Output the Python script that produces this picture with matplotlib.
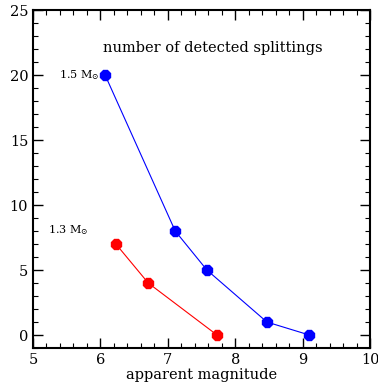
import matplotlib
matplotlib.use("Agg")
import matplotlib.pyplot as plt
from matplotlib.ticker import MultipleLocator

blue_mag = [6.07, 7.11, 7.58, 8.47, 9.10]
blue_n = [20, 8, 5, 1, 0]
red_mag = [6.23, 6.71, 7.73]
red_n = [7, 4, 0]

plt.rcParams['font.family'] = ['DejaVu Serif']
plt.rcParams['mathtext.fontset'] = 'dejavuserif'
fig = plt.figure(figsize=(3.78, 3.88), dpi=100)
ax = fig.add_axes([0.0873, 0.103, 0.979 - 0.0873, 0.974 - 0.103])

ax.plot(blue_mag, blue_n, color='blue', lw=0.8, marker='8', ms=8, mec='blue', mfc='blue')
ax.plot(red_mag, red_n, color='red', lw=0.8, marker='8', ms=8, mec='red', mfc='red')

ax.set_xlim(5, 10)
ax.set_ylim(-1, 25)
ax.xaxis.set_major_locator(MultipleLocator(1))
ax.xaxis.set_minor_locator(MultipleLocator(0.2))
ax.yaxis.set_major_locator(MultipleLocator(5))
ax.yaxis.set_minor_locator(MultipleLocator(1))
ax.tick_params(which='both', direction='in', top=True, right=True, labelsize=10.5)
ax.tick_params(which='major', length=7, width=1)
ax.tick_params(which='minor', length=3.5, width=0.8)
for s in ax.spines.values():
    s.set_linewidth(1.5)

ax.set_xlabel('apparent magnitude', fontsize=10.5, labelpad=1)
ax.text(7.66, 22.1, 'number of detected splittings', ha='center', va='center', fontsize=10.5)
ax.text(5.98, 20, r'1.5 M$_{\odot}$', ha='right', va='center', fontsize=8)
ax.text(5.82, 8.1, r'1.3 M$_{\odot}$', ha='right', va='center', fontsize=8)

fig.savefig('out.png', dpi=100)
